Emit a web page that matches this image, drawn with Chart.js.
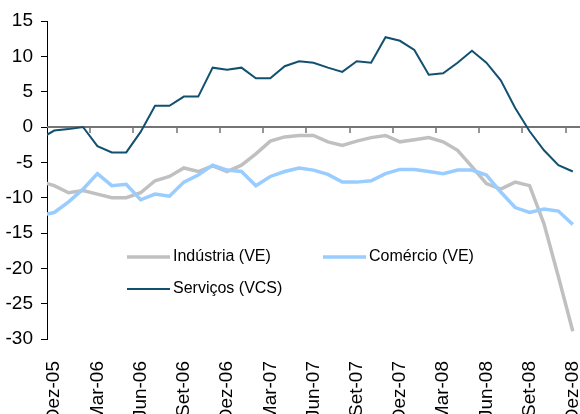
<!DOCTYPE html>
<html>
<head>
<meta charset="utf-8">
<script src="https://cdn.jsdelivr.net/npm/chart.js@4.4.1/dist/chart.umd.min.js"></script>
<style>
  body { margin: 0; background: #fff; }
</style>
</head>
<body>
<canvas id="grafico" width="580" height="414"></canvas>
<script>
// Nov-05 fica fora do eixo, só para a linha entrar cortada na borda como no original
const meses = [
  'Nov-05', 'Dez-05',
  'Jan-06', 'Fev-06', 'Mar-06', 'Abr-06', 'Mai-06', 'Jun-06', 'Jul-06', 'Ago-06', 'Set-06', 'Out-06', 'Nov-06', 'Dez-06',
  'Jan-07', 'Fev-07', 'Mar-07', 'Abr-07', 'Mai-07', 'Jun-07', 'Jul-07', 'Ago-07', 'Set-07', 'Out-07', 'Nov-07', 'Dez-07',
  'Jan-08', 'Fev-08', 'Mar-08', 'Abr-08', 'Mai-08', 'Jun-08', 'Jul-08', 'Ago-08', 'Set-08', 'Out-08', 'Nov-08', 'Dez-08'
];

const industria = [
  -7.7, -8.3,
  -9.3, -9.0, -9.5, -10.0, -10.0, -9.3, -7.6, -7.0, -5.8, -6.3, -5.5, -6.3,
  -5.4, -3.8, -2.0, -1.4, -1.2, -1.2, -2.1, -2.6, -2.0, -1.5, -1.2, -2.1,
  -1.8, -1.5, -2.1, -3.3, -5.6, -8.0, -8.8, -7.8, -8.3, -13.7, -21.2, -28.9
];

const comercio = [
  -12.5, -12.1,
  -10.6, -8.8, -6.6, -8.3, -8.1, -10.3, -9.5, -9.8, -7.8, -6.8, -5.4, -6.1,
  -6.3, -8.3, -7.0, -6.3, -5.8, -6.1, -6.7, -7.8, -7.8, -7.6, -6.6, -6.0,
  -6.0, -6.3, -6.6, -6.1, -6.1, -6.8, -9.2, -11.4, -12.1, -11.6, -11.9, -13.8
];

const servicos = [
  -1.7, -0.5,
  -0.3, 0.0, -2.7, -3.6, -3.6, -0.7, 3.0, 3.0, 4.3, 4.3, 8.4, 8.1,
  8.4, 6.9, 6.9, 8.6, 9.3, 9.1, 8.4, 7.8, 9.3, 9.1, 12.7, 12.2,
  10.9, 7.4, 7.6, 9.1, 10.8, 9.1, 6.6, 2.7, -0.6, -3.3, -5.4, -6.3
];

const fonte = 'Liberation Sans, Arial, sans-serif';

// linha do zero com os tracinhos a cada trimestre
const eixoZero = {
  id: 'eixoZero',
  beforeDatasetsDraw(chart) {
    const { ctx, chartArea, scales: { x, y } } = chart;
    const y0 = y.getPixelForValue(0);
    ctx.save();
    ctx.strokeStyle = '#747474';
    ctx.lineWidth = 2;
    ctx.beginPath();
    ctx.moveTo(chartArea.left, y0);
    ctx.lineTo(chartArea.right, y0);
    ctx.stroke();
    ctx.lineWidth = 1.5;
    ctx.beginPath();
    for (let i = 3; i < meses.length - 1; i += 3) {
      const px = Math.round((x.getPixelForValue(i) + x.getPixelForValue(i + 1)) / 2);
      ctx.moveTo(px, y0);
      ctx.lineTo(px, y0 + 6);
    }
    ctx.stroke();
    ctx.restore();
  }
};

// legenda dentro da área do gráfico
const legendaInterna = {
  id: 'legendaInterna',
  afterDatasetsDraw(chart) {
    const { ctx } = chart;
    const itens = [
      { ds: 0, x: 127, y: 257 },
      { ds: 1, x: 323, y: 257 },
      { ds: 2, x: 127, y: 289 }
    ];
    ctx.save();
    ctx.font = '16px ' + fonte;
    ctx.textBaseline = 'middle';
    ctx.fillStyle = '#000';
    itens.forEach(item => {
      const ds = chart.data.datasets[item.ds];
      ctx.strokeStyle = ds.borderColor;
      ctx.lineWidth = ds.borderWidth;
      ctx.beginPath();
      ctx.moveTo(item.x, item.y);
      ctx.lineTo(item.x + 43, item.y);
      ctx.stroke();
      ctx.fillText(ds.label, item.x + 46, item.y);
    });
    ctx.restore();
  }
};

new Chart(document.getElementById('grafico'), {
  type: 'line',
  data: {
    labels: meses,
    datasets: [
      {
        label: 'Indústria (VE)',
        data: industria,
        borderColor: '#c0c0c0',
        borderWidth: 3.5,
        order: 3
      },
      {
        label: 'Comércio (VE)',
        data: comercio,
        borderColor: '#99ccff',
        borderWidth: 3.5,
        order: 2
      },
      {
        label: 'Serviços (VCS)',
        data: servicos,
        borderColor: '#12506f',
        borderWidth: 2,
        order: 1
      }
    ]
  },
  options: {
    responsive: false,
    animation: false,
    devicePixelRatio: 1,
    elements: {
      point: { radius: 0 },
      line: { tension: 0 }
    },
    layout: { padding: { top: 21, left: 0, right: 0, bottom: 0 } },
    scales: {
      x: {
        min: 'Dez-05',
        offset: true,
        grid: { display: false },
        border: { display: false },
        ticks: {
          autoSkip: false,
          minRotation: 90,
          maxRotation: 90,
          padding: 14,
          color: '#000',
          font: { family: fonte, size: 19 },
          callback: (v) => ((v - 1) % 3 === 0 ? meses[v] : '')
        },
        afterFit(s) {
          s.height = 75;
          s.paddingLeft = 0;
          s.paddingRight = 0;
        }
      },
      y: {
        min: -30,
        max: 15,
        ticks: {
          stepSize: 5,
          padding: 8,
          color: '#000',
          font: { family: fonte, size: 19 }
        },
        grid: { drawOnChartArea: false, drawTicks: true, tickLength: 6, color: '#000' },
        border: { color: '#000', width: 1 },
        afterFit(s) {
          s.width = 47;
          s.paddingTop = 0;
          s.paddingBottom = 0;
        }
      }
    },
    plugins: {
      legend: { display: false },
      tooltip: { enabled: false }
    }
  },
  plugins: [eixoZero, legendaInterna]
});
</script>
</body>
</html>
